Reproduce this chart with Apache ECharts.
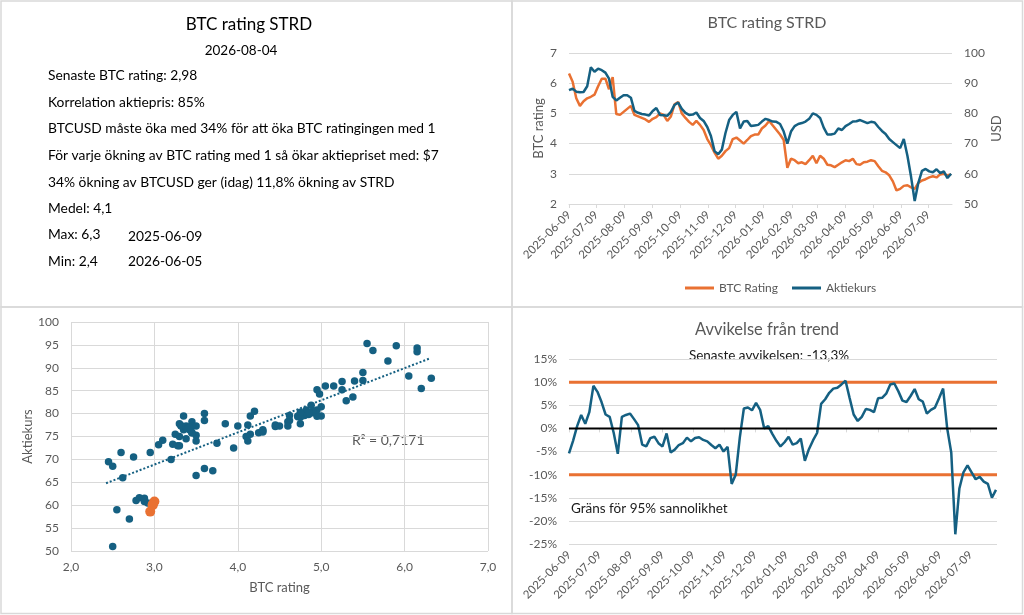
<!DOCTYPE html>
<html>
<head>
<meta charset="UTF-8">
<title>BTC rating STRD</title>
<script src="https://cdn.jsdelivr.net/npm/echarts@6.0.0/dist/echarts.min.js"></script>
<style>
  html, body { margin: 0; padding: 0; background: #fff; }
  #main { width: 1024px; height: 615px; }
</style>
</head>
<body>
<div id="main"></div>
<script>
// samples, one every 4 days from startDate
var startDate = '2025-06-09';
var endDate = '2026-08-04';
var stepDays = 4;

var rating = [
  6.32, 6.05, 5.5, 5.25, 5.4, 5.5, 5.55, 5.62, 5.9, 6.15,
  6.15, 5.8, 6.2, 4.98, 4.95, 5.05, 5.15, 5.25, 4.95, 4.9,
  4.85, 4.8, 4.72, 4.82, 4.88, 5.0, 4.95, 4.75, 4.9, 5.3,
  5.38, 5.0, 4.85, 4.72, 4.62, 4.75, 4.62, 4.45, 4.15, 3.95,
  3.7, 3.5, 3.6, 3.75, 3.85, 4.15, 4.2, 4.1, 4.0, 4.12,
  4.25, 4.3, 4.3, 4.5, 4.6, 4.75, 4.6, 4.45, 4.3, 4.12,
  3.2, 3.5, 3.45, 3.35, 3.38, 3.32, 3.45, 3.6, 3.35, 3.6,
  3.5, 3.3, 3.28, 3.22, 3.3, 3.38, 3.45, 3.42, 3.5, 3.32,
  3.3, 3.38, 3.4, 3.45, 3.42, 3.25, 3.1, 3.05, 2.95, 2.75,
  2.45, 2.5, 2.6, 2.62, 2.55, 2.5, 2.7, 2.78, 2.82, 2.88,
  2.92, 2.88, 2.98, 3.0, 2.95, 2.98
];

var price = [
  87.7, 88.2, 87.2, 87.0, 87.1, 89, 95.3, 93.8, 94.8, 94.3,
  93.5, 91.5, 85.5, 84.3, 85.2, 86, 86, 85.2, 80.8, 80.2,
  79.8, 79.6, 79.3, 80.8, 81.8, 79.5, 79.4, 79.2, 80.5, 82.8,
  83.6, 81.5, 80.2, 79.5, 79.6, 80.3, 78.5, 77.5, 75.5, 72.5,
  67.5, 66.5, 68, 73.5, 77.8, 79.5, 80.5, 75, 77.3, 77.5,
  75.8, 76, 76.2, 77.3, 78.2, 77.8, 77.3, 77.2, 76.5, 74,
  70, 74, 75.8, 76.5, 76.8, 77.3, 78.2, 80, 79.5, 78.5,
  75.3, 73, 73, 73.3, 75, 74.5, 75.8, 76.5, 77.3, 77.4,
  77.8, 77.3, 76.8, 77.2, 77.0, 75.5, 74.2, 73.2, 71.5, 70.5,
  69.5, 68.5, 71.5, 66, 59, 51, 57, 61, 61.6, 60.8,
  60.5, 61.5, 60.2, 60.8, 58.6, 60
];

var deviation = [
  -5.4, -2.7, 0.5, 2.9, 1, 3.5, 9.2, 7.9, 5.7, 3,
  2.5, -1, -5.5, 2.5, 2.9, 3.2, 2, 0.7, -3.5, -3.9,
  -2.1, -1.8, -3.2, -3.9, -1.1, -5.2, -4.6, -3.6, -3.2, -2,
  -2.8, -2.1, -1.9, -2.5, -2.8, -3.6, -4.3, -3.5, -5, -4,
  -12, -10, -2, 4.3, 4.5, 3.9, 5.5, 4, 0, 0.5,
  -1.2, -2.7, -3.9, -3, -1.8, -3.5, -3.2, -2.2, -7, -4.5,
  -2.6, -1, 5.3, 6.3, 7.7, 8.6, 8.8, 9.5, 10.3, 6.6,
  3, 1.6, 2.5, 4.2, 4, 3.5, 6.5, 6.6, 7.5, 9.5,
  9.7, 8, 6, 5.7, 7, 8.5, 6.3, 5.8, 3.2, 4,
  4.5, 6.5, 8.6, 0, -5.2, -22.9, -13, -9.5, -8, -9.5,
  -11, -10.5, -11.5, -12, -15, -13.3
];

var monthTicks = [
  '2025-06-09', '2025-07-09', '2025-08-09', '2025-09-09', '2025-10-09',
  '2025-11-09', '2025-12-09', '2026-01-09', '2026-02-09', '2026-03-09',
  '2026-04-09', '2026-05-09', '2026-06-09', '2026-07-09'
];

// trend line end points and the band limits
var trendX = [2.42, 6.31];
var trendY = [64.8, 92.1];
var limits = [10, -10];
var zeroLine = [0];
var latestCount = 4;

var infoLines = [
  'Senaste BTC rating: 2,98',
  'Korrelation aktiepris: 85%',
  'BTCUSD måste öka med 34% för att öka BTC ratingingen med 1',
  'För varje ökning av BTC rating med 1 så ökar aktiepriset med: $7',
  '34% ökning av BTCUSD ger (idag) 11,8% ökning av STRD',
  'Medel: 4,1',
  'Max: 6,3',
  'Min: 2,4'
];
var infoDates = ['2025-06-09', '2026-06-05'];

var BLUE = '#156082';
var ORANGE = '#E97132';
var GRID = '#d9d9d9';
var LABEL = '#595959';
var FONT = 'Lato, "Noto Sans", sans-serif';

function parseDay(s) {
  var p = s.split('-');
  return new Date(+p[0], +p[1] - 1, +p[2]).getTime();
}
function pad(n) { return n < 10 ? '0' + n : '' + n; }
function fmtDay(v) {
  var d = new Date(v);
  return d.getFullYear() + '-' + pad(d.getMonth() + 1) + '-' + pad(d.getDate());
}

var t0 = parseDay(startDate);
var axisMin = t0;
var axisMax = parseDay(endDate);
var days = rating.map(function (v, i) {
  var d = new Date(t0);
  d.setDate(d.getDate() + i * stepDays);
  return d.getTime();
});
var tickValues = monthTicks.map(parseDay);

function pairs(xs, ys) {
  return xs.map(function (x, i) { return [x, ys[i]]; });
}
function flatLine(v) {
  return [[axisMin, v], [axisMax, v]];
}

var allPoints = pairs(rating, price);
var oldPoints = allPoints.slice(0, allPoints.length - latestCount);
var newPoints = allPoints.slice(allPoints.length - latestCount);

// date axis as a value axis over timestamps, ticks on the 9th of each month
function dateAxis(gridIndex) {
  return {
    type: 'value',
    gridIndex: gridIndex,
    min: axisMin,
    max: axisMax,
    axisLine: { show: true, lineStyle: { color: GRID, width: 1 } },
    axisTick: { show: true, length: 4, lineStyle: { color: GRID }, customValues: tickValues },
    axisLabel: {
      rotate: 45, fontSize: 11.5, color: LABEL, margin: 9, fontFamily: FONT,
      customValues: tickValues, formatter: fmtDay, hideOverlap: false,
      showMinLabel: true, showMaxLabel: true
    },
    splitLine: { show: false }
  };
}

function valueAxis(extra) {
  var base = {
    type: 'value',
    axisLine: { show: false },
    axisTick: { show: false },
    axisLabel: { color: LABEL, fontSize: 12, margin: 12, fontFamily: FONT },
    splitLine: { show: true, lineStyle: { color: GRID, width: 1 } },
    nameLocation: 'middle',
    nameRotate: 90,
    nameTextStyle: { color: LABEL, fontSize: 13, fontFamily: FONT }
  };
  for (var k in extra) base[k] = extra[k];
  return base;
}

function txt(text, x, y, size, color, align) {
  return {
    type: 'text', x: x, y: y, silent: true,
    style: {
      text: text, fill: color, fontSize: size, fontFamily: FONT,
      align: align || 'left', verticalAlign: 'middle'
    }
  };
}

var graphics = [
  { type: 'rect', shape: { x: 1, y: 1, width: 511, height: 306 }, style: { fill: 'none', stroke: GRID, lineWidth: 1.5 }, silent: true },
  { type: 'rect', shape: { x: 512, y: 1, width: 510.5, height: 306 }, style: { fill: 'none', stroke: GRID, lineWidth: 1.5 }, silent: true },
  { type: 'rect', shape: { x: 1, y: 307, width: 511, height: 306.5 }, style: { fill: 'none', stroke: GRID, lineWidth: 1.5 }, silent: true },
  { type: 'rect', shape: { x: 512, y: 307, width: 510.5, height: 306.5 }, style: { fill: 'none', stroke: GRID, lineWidth: 1.5 }, silent: true },
  txt('BTC rating STRD', 249, 25, 17, '#000', 'center'),
  txt('2026-08-04', 241, 51, 13.5, '#000', 'center'),
  txt('BTC rating STRD', 767, 23, 16, LABEL, 'center'),
  txt('Avvikelse från trend', 767, 330, 16.5, LABEL, 'center'),
  txt('Senaste avvikelsen: -13,3%', 769, 356, 13.5, '#1a1a1a', 'center'),
  txt('Gräns för 95% sannolikhet', 571, 509, 13.5, '#1a1a1a', 'left'),
  txt('R² = 0,7171', 352, 440, 14, LABEL, 'left')
];
var lineY = [76, 103, 129, 156, 183, 209, 235, 262];
infoLines.forEach(function (t, i) {
  graphics.push(txt(t, 48, lineY[i], 13.8, '#000', 'left'));
});
graphics.push(txt(infoDates[0], 128, 237, 13.8, '#000', 'left'));
graphics.push(txt(infoDates[1], 128, 262, 13.8, '#000', 'left'));

var chart = echarts.init(document.getElementById('main'));
chart.setOption({
  animation: false,
  backgroundColor: '#fff',
  textStyle: { fontFamily: FONT },
  legend: {
    data: ['BTC Rating', 'Aktiekurs'],
    left: 680, top: 277,
    icon: 'rect', itemWidth: 29, itemHeight: 3, itemGap: 14,
    textStyle: { color: LABEL, fontSize: 12, fontFamily: FONT }
  },
  grid: [
    { left: 569, top: 53, width: 383, height: 151, containLabel: false, outerBoundsMode: 'none' },
    { left: 71, top: 322, width: 417, height: 229, containLabel: false, outerBoundsMode: 'none' },
    { left: 569, top: 359, width: 428, height: 185, containLabel: false, outerBoundsMode: 'none' }
  ],
  xAxis: [
    dateAxis(0),
    valueAxis({
      gridIndex: 1, min: 2, max: 7, interval: 1,
      name: 'BTC rating', nameRotate: 0, nameGap: 30,
      axisLabel: {
        color: LABEL, fontSize: 12, margin: 10, fontFamily: FONT,
        formatter: function (v) { return v.toFixed(1).replace('.', ','); }
      }
    }),
    dateAxis(2)
  ],
  yAxis: [
    valueAxis({ gridIndex: 0, min: 2, max: 7, interval: 1, name: 'BTC rating', nameGap: 24 }),
    valueAxis({ gridIndex: 0, min: 50, max: 100, interval: 10, position: 'right', name: 'USD', nameGap: 38, splitLine: { show: false } }),
    valueAxis({ gridIndex: 1, min: 50, max: 100, interval: 5, name: 'Aktiekurs', nameGap: 36 }),
    valueAxis({
      gridIndex: 2, min: -25, max: 15, interval: 5,
      axisLabel: { color: LABEL, fontSize: 12, margin: 12, fontFamily: FONT, formatter: '{value}%' }
    })
  ],
  series: [
    {
      name: 'BTC Rating', type: 'line', xAxisIndex: 0, yAxisIndex: 0,
      data: pairs(days, rating), symbol: 'none',
      lineStyle: { color: ORANGE, width: 2.5 }, itemStyle: { color: ORANGE }
    },
    {
      name: 'Aktiekurs', type: 'line', xAxisIndex: 0, yAxisIndex: 1,
      data: pairs(days, price), symbol: 'none',
      lineStyle: { color: BLUE, width: 2.5 }, itemStyle: { color: BLUE }
    },
    {
      type: 'scatter', xAxisIndex: 1, yAxisIndex: 2, data: oldPoints,
      symbolSize: 7.5, itemStyle: { color: BLUE, opacity: 1 }, z: 2
    },
    {
      type: 'scatter', xAxisIndex: 1, yAxisIndex: 2, data: newPoints,
      symbolSize: 10, itemStyle: { color: ORANGE, opacity: 1 }, z: 3
    },
    {
      type: 'line', xAxisIndex: 1, yAxisIndex: 2, data: pairs(trendX, trendY),
      symbol: 'none', lineStyle: { color: BLUE, width: 2, type: 'dotted' }, z: 4
    }
  ].concat(limits.map(function (v) {
    return {
      type: 'line', xAxisIndex: 2, yAxisIndex: 3, data: flatLine(v), symbol: 'none',
      lineStyle: { color: ORANGE, width: 3 }, z: 1
    };
  })).concat([
    {
      type: 'line', xAxisIndex: 2, yAxisIndex: 3, data: pairs(days, deviation), symbol: 'none',
      lineStyle: { color: BLUE, width: 2.5 }, z: 2
    }
  ]).concat(zeroLine.map(function (v) {
    return {
      type: 'line', xAxisIndex: 2, yAxisIndex: 3, data: flatLine(v), symbol: 'none',
      lineStyle: { color: '#000', width: 2 }, z: 3
    };
  })),
  graphic: graphics
});
</script>
</body>
</html>
